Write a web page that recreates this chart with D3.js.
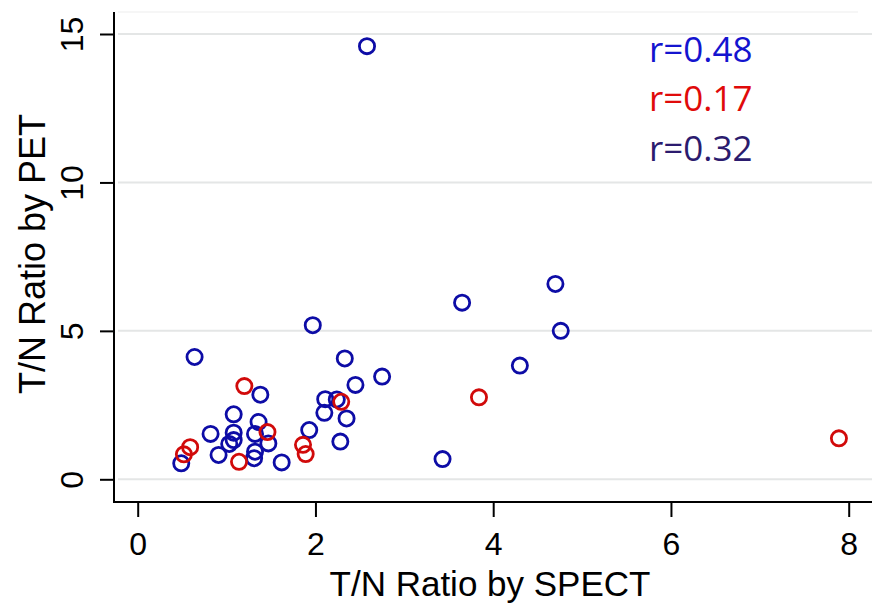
<!DOCTYPE html>
<html>
<head>
<meta charset="utf-8">
<script src="https://cdn.jsdelivr.net/npm/d3@7"></script>
<style>
  html, body { margin: 0; padding: 0; background: #fff; }
  #chart { width: 872px; height: 603px; }
</style>
</head>
<body>
<div id="chart"></div>
<script>
// T/N ratio: SPECT (x) vs PET (y)
const blueX = [2.58, 0.64, 1.97, 3.65, 4.70, 4.76, 4.30, 2.33, 2.75, 2.45, 2.11, 2.24, 1.38, 2.10, 2.35, 1.08,
  1.36, 1.93, 0.82, 1.08, 1.32, 1.08, 1.03, 1.47, 2.28, 1.32, 0.91, 1.31, 1.62, 0.49, 3.43];
const blueY = [14.59, 4.12, 5.19, 5.95, 6.58, 5.00, 3.83, 4.07, 3.46, 3.18, 2.70, 2.69, 2.85, 2.24, 2.05, 2.19,
  1.93, 1.66, 1.53, 1.57, 1.53, 1.32, 1.19, 1.21, 1.27, 0.93, 0.82, 0.71, 0.57, 0.54, 0.68];
const redX = [1.20, 1.46, 2.29, 3.84, 1.86, 1.89, 1.14, 0.59, 0.52, 7.89];
const redY = [3.14, 1.59, 2.61, 2.76, 1.16, 0.85, 0.59, 1.08, 0.84, 1.38];
const xTicks = [0, 2, 4, 6, 8];
const yTicks = [0, 5, 10, 15];
const rLabels = ["r=0.48", "r=0.17", "r=0.32"];

const width = 872, height = 603;
const axisLeft = 114, axisBottom = 502;

const svg = d3.select("#chart")
  .append("svg")
  .attr("width", width)
  .attr("height", height);

const x = d3.scaleLinear().domain([0, 8]).range([137.7, 848.7]);
const y = d3.scaleLinear().domain([0, 15]).range([479.3, 34]);

// gridlines
svg.append("line")
  .attr("x1", axisLeft + 4).attr("x2", 858)
  .attr("y1", 12).attr("y2", 12)
  .attr("stroke", "#f3f3f3").attr("stroke-width", 1.5);

svg.selectAll("line.grid")
  .data(yTicks)
  .enter()
  .append("line")
  .attr("class", "grid")
  .attr("x1", axisLeft + 4).attr("x2", width)
  .attr("y1", d => y(d)).attr("y2", d => y(d))
  .attr("stroke", "#e4e6e6")
  .attr("stroke-width", 2);

// axes
const gx = svg.append("g")
  .attr("transform", `translate(0,${axisBottom})`)
  .call(d3.axisBottom(x).tickValues(xTicks).tickSize(15).tickFormat(d3.format("d")));
gx.select(".domain").remove();
gx.selectAll(".tick line").attr("stroke", "#000").attr("stroke-width", 2);
gx.selectAll(".tick text")
  .attr("y", 53).attr("dy", 0)
  .attr("fill", "#000")
  .style("font-family", "'Liberation Sans', Arial, sans-serif")
  .style("font-size", "32px");

const gy = svg.append("g")
  .attr("transform", `translate(${axisLeft},0)`)
  .call(d3.axisLeft(y).tickValues(yTicks).tickSize(14).tickFormat(d3.format("d")));
gy.select(".domain").remove();
gy.selectAll(".tick line").attr("stroke", "#000").attr("stroke-width", 2);
gy.selectAll(".tick text")
  .attr("x", 0).attr("dy", 0)
  .attr("transform", "translate(-31,0) rotate(-90)")
  .attr("text-anchor", "middle")
  .attr("fill", "#000")
  .style("font-family", "'Liberation Sans', Arial, sans-serif")
  .style("font-size", "32px");

svg.append("line")
  .attr("x1", axisLeft).attr("x2", axisLeft)
  .attr("y1", 12).attr("y2", axisBottom + 1)
  .attr("stroke", "#000").attr("stroke-width", 2);
svg.append("line")
  .attr("x1", axisLeft - 1).attr("x2", width)
  .attr("y1", axisBottom).attr("y2", axisBottom)
  .attr("stroke", "#000").attr("stroke-width", 2);

// axis titles
svg.append("text")
  .attr("x", 490).attr("y", 596)
  .attr("text-anchor", "middle")
  .style("font-family", "'Liberation Sans', Arial, sans-serif")
  .style("font-size", "35px")
  .text("T/N Ratio by SPECT");

svg.append("text")
  .attr("transform", "translate(45,254) rotate(-90)")
  .attr("text-anchor", "middle")
  .style("font-family", "'Liberation Sans', Arial, sans-serif")
  .style("font-size", "36px")
  .text("T/N Ratio by PET");

// points
const blue = blueX.map((v, i) => ({ x: v, y: blueY[i] }));
const red = redX.map((v, i) => ({ x: v, y: redY[i] }));

svg.selectAll("circle.blue")
  .data(blue)
  .enter()
  .append("circle")
  .attr("class", "blue")
  .attr("cx", d => x(d.x))
  .attr("cy", d => y(d.y))
  .attr("r", 7.6)
  .attr("fill", "none")
  .attr("stroke", "#0d0ca6")
  .attr("stroke-width", 2.8);

svg.selectAll("circle.red")
  .data(red)
  .enter()
  .append("circle")
  .attr("class", "red")
  .attr("cx", d => x(d.x))
  .attr("cy", d => y(d.y))
  .attr("r", 7.6)
  .attr("fill", "none")
  .attr("stroke", "#d10a0a")
  .attr("stroke-width", 2.8);

// correlation labels
const rColors = ["#1414cf", "#e00a0a", "#2b1b6e"];
svg.selectAll("text.rlab")
  .data(rLabels)
  .enter()
  .append("text")
  .attr("class", "rlab")
  .attr("x", 649)
  .attr("y", (d, i) => 61.7 + i * 49.7)
  .attr("fill", (d, i) => rColors[i])
  .style("font-family", "'Open Sans', sans-serif")
  .style("font-size", "35px")
  .text(d => d);
</script>
</body>
</html>
